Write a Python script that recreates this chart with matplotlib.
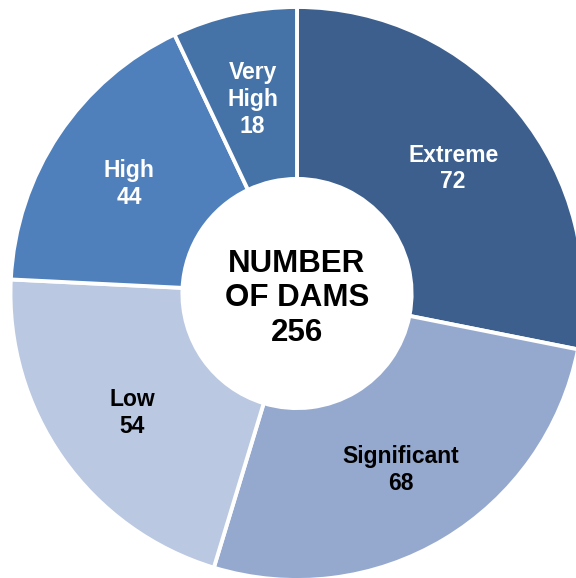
import matplotlib
matplotlib.use("Agg")
import matplotlib.pyplot as plt

# Dam counts by hazard classification
categories = ["Extreme", "Significant", "Low", "High", "Very\nHigh"]
counts = [72, 68, 54, 44, 18]
colors = ["#3D5F8E", "#95A9CF", "#BAC8E1", "#4F80BC", "#4572A7"]
text_colors = ["white", "black", "black", "white", "white"]
center_title = "NUMBER\nOF DAMS"

plt.rcParams["font.family"] = ["Liberation Sans", "DejaVu Sans"]

fig = plt.figure(figsize=(5.76, 5.78), dpi=100)
ax = fig.add_axes([0, 0, 1, 1])

# pixel scale: s px per unit radius, ring centre at (cx, cy) from top-left
s = 286.5
cx, cy = 297.0, 293.5

hole = 0.40
wedges, texts = ax.pie(
    counts,
    colors=colors,
    startangle=90,
    counterclock=False,
    radius=1.0,
    labels=[f"{c}\n{v}" for c, v in zip(categories, counts)],
    labeldistance=(1 + hole) / 2 + 0.005,
    wedgeprops=dict(width=1 - hole, edgecolor="white", linewidth=2.8),
)
for t, tc in zip(texts, text_colors):
    x, y = t.get_position()
    t.set_position((x, y - 3 / s))
    t.set_ha("center")
    t.set_va("center")
    t.set_color(tc)
    t.set_fontsize(16.5)
    t.set_fontweight("bold")
    t.set_linespacing(1.2)

ax.text(0, -5 / s, f"{center_title}\n{sum(counts)}", ha="center", va="center",
        fontsize=22.5, fontweight="bold", color="black", linespacing=1.18)

ax.set_aspect("auto")
ax.set_xlim(-cx / s, (576 - cx) / s)
ax.set_ylim(-(578 - cy) / s, cy / s)
ax.axis("off")

fig.savefig("out.png", dpi=100, facecolor="white")
